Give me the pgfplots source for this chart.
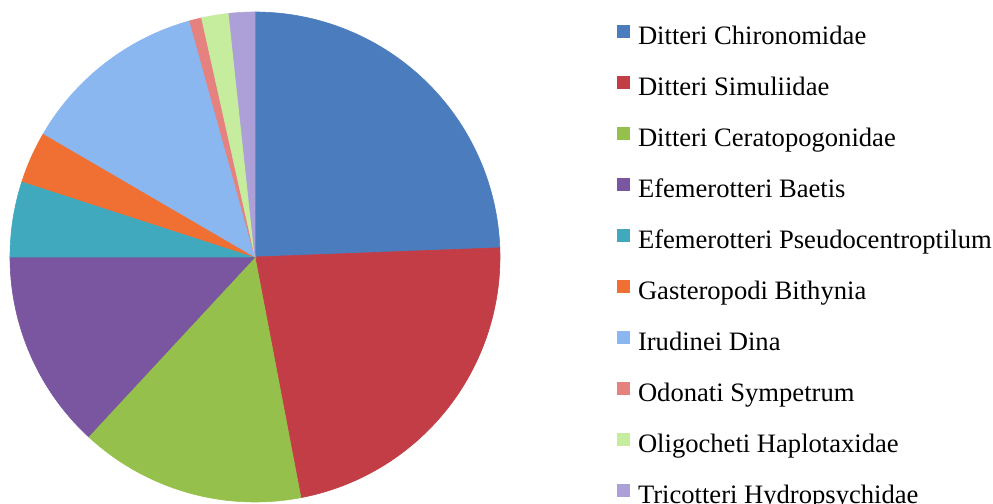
\documentclass[border=0pt]{standalone}
\usepackage{pgfplots}
\pgfplotsset{compat=1.18}
\usepackage{pgfplotstable}
\usepackage{fontspec}
\setmainfont{Liberation Serif}

\definecolor{c0}{HTML}{4B7DBE}
\definecolor{c1}{HTML}{C23D46}
\definecolor{c2}{HTML}{96C04C}
\definecolor{c3}{HTML}{7A55A0}
\definecolor{c4}{HTML}{40A9BE}
\definecolor{c5}{HTML}{EF7032}
\definecolor{c6}{HTML}{8AB7F0}
\definecolor{c7}{HTML}{E5827F}
\definecolor{c8}{HTML}{C6EC9E}
\definecolor{c9}{HTML}{ADA0D8}

\pgfplotstableread[col sep=comma]{
name,value
Ditteri Chironomidae,24.4
Ditteri Simuliidae,22.6
Ditteri Ceratopogonidae,14.9
Efemerotteri Baetis,13.1
Efemerotteri Pseudocentroptilum,5.0
Gasteropodi Bithynia,3.4
Irudinei Dina,12.3
Odonati Sympetrum,0.8
Oligocheti Haplotaxidae,1.8
Tricotteri Hydropsychidae,1.7
}\pietable

\begin{document}
\begin{tikzpicture}[x=0.5pt,y=0.5pt]
\useasboundingbox (0,0) rectangle (993,504);
\clip (0,0) rectangle (993,504);
\gdef\startangle{90}
\begin{axis}[
  at={(5pt,1pt)}, anchor=south west,
  scale only axis, width=245pt, height=245pt,
  xmin=-1, xmax=1, ymin=-1, ymax=1,
  hide axis, clip=false,
  legend cell align=left,
  legend style={
    at={(1.2388,0.9755)}, anchor=north west,
    draw=none, fill=none, inner sep=0pt,
    font=\fontsize{13.3}{16}\selectfont,
    row sep=12.5pt, column sep=4pt,
    nodes={inner sep=0pt, text height=10pt, text depth=3pt},
  },
  legend image code/.code={\fill[#1] (0pt,0pt) rectangle (6pt,6pt);},
]
\pgfplotsinvokeforeach{0,...,9}{
  \pgfplotstablegetelem{#1}{value}\of\pietable
  \pgfmathsetmacro\endangletmp{\startangle-\pgfplotsretval*3.6}
  \xdef\endangle{\endangletmp}
  \edef\doplot{\noexpand\addplot[fill=c#1, draw=c#1, line width=0.3pt, domain=\endangle:\startangle, samples=80] ({cos(x)},{sin(x)}) -- (axis cs:0,0) -- cycle;}
  \doplot
  \pgfplotstablegetelem{#1}{name}\of\pietable
  \addlegendentryexpanded{\pgfplotsretval}
  \xdef\startangle{\endangle}
}
\end{axis}
\end{tikzpicture}
\end{document}
